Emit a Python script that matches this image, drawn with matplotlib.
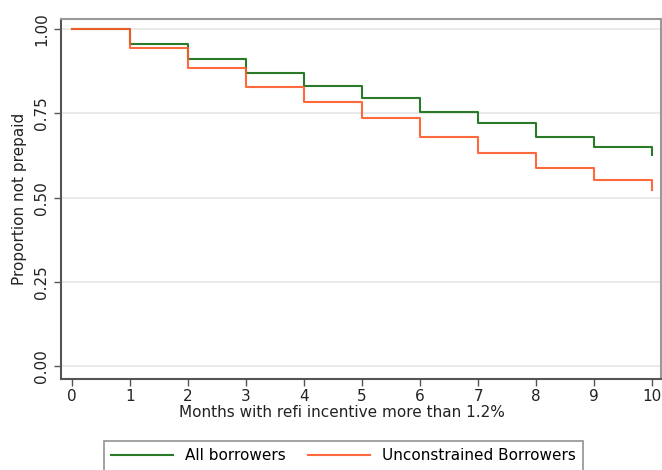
import numpy as np
import matplotlib.pyplot as plt

months = np.arange(0, 11)
all_borrowers = [1.0, 0.954, 0.911, 0.869, 0.832, 0.795, 0.755, 0.720, 0.681, 0.649, 0.626]
unconstrained = [1.0, 0.943, 0.885, 0.829, 0.782, 0.735, 0.681, 0.633, 0.589, 0.552, 0.523]
yticks = [0.0, 0.25, 0.5, 0.75, 1.0]

plt.rcParams['font.family'] = 'DejaVu Sans'

fig = plt.figure(figsize=(6.62, 4.70), dpi=100)
ax = fig.add_axes([0.092, 0.194, 0.907, 0.766])

ax.step(months, all_borrowers, where='post', color='#2a7a2a', lw=1.5, label='All borrowers')
ax.step(months, unconstrained, where='post', color='#ff5a28', lw=1.5, alpha=0.9,
        label='Unconstrained Borrowers')

ax.set_xlim(-0.19, 10.155)
ax.set_ylim(-0.037, 1.03)
ax.set_xticks(months)
ax.set_yticks(yticks)
ax.set_yticklabels(['%.2f' % v for v in yticks], rotation=90, va='center')
ax.grid(axis='y', color='#e6e6e6', lw=1.2)
ax.set_axisbelow(True)

for s in ['left', 'bottom']:
    ax.spines[s].set_color('#555555')
    ax.spines[s].set_linewidth(1.5)
for s in ['top', 'right']:
    ax.spines[s].set_color('#999999')
    ax.spines[s].set_linewidth(1.5)

ax.tick_params(direction='out', length=5, width=1, color='#555555', labelsize=11,
               labelcolor='#222222')
ax.tick_params(axis='x', pad=2)
ax.set_xlabel('Months with refi incentive more than 1.2%', fontsize=11, labelpad=0,
              color='#222222')
ax.xaxis.set_label_coords(0.468, -0.074)
ax.set_ylabel('Proportion not prepaid', fontsize=11, labelpad=1, color='#222222')
ax.yaxis.set_label_coords(-0.057, 0.5)

leg = fig.legend(loc='upper center', bbox_to_anchor=(0.519, 0.079), ncol=2,
                 fontsize=11, handlelength=4, frameon=True, fancybox=False,
                 edgecolor='#777777', borderpad=0.5, columnspacing=1.5)
leg.get_frame().set_linewidth(1.2)

fig.savefig('out.png', dpi=100)
